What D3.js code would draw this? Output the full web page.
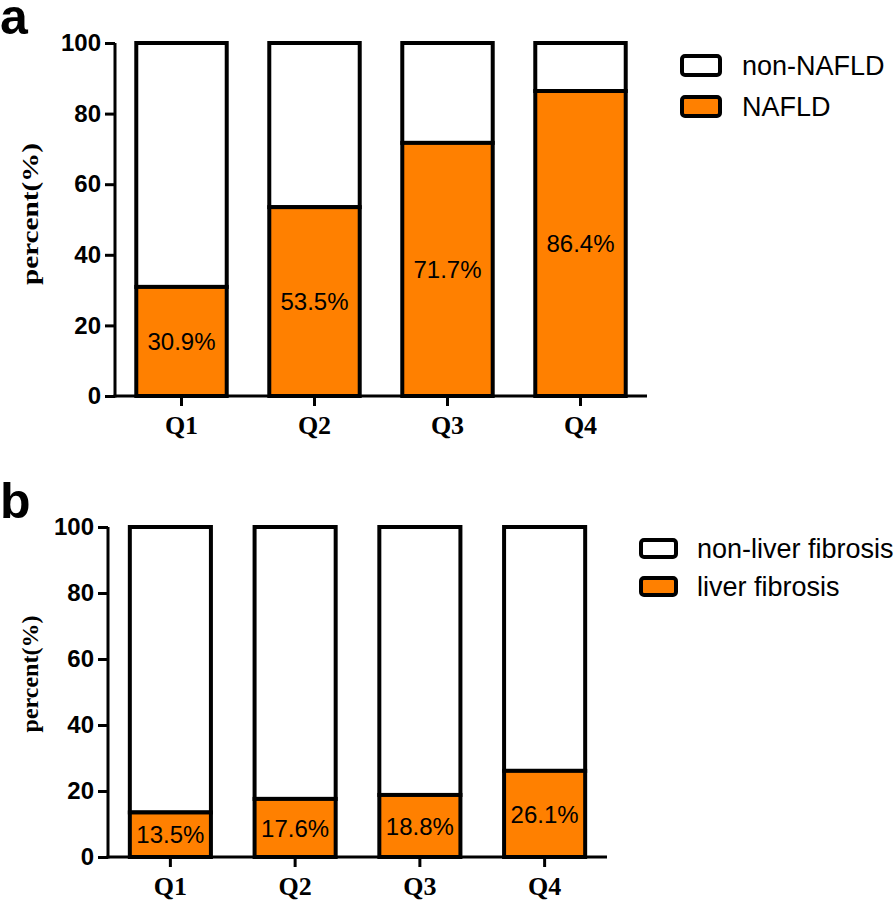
<!DOCTYPE html>
<html>
<head>
<meta charset="utf-8">
<script src="https://cdn.jsdelivr.net/npm/d3@7"></script>
<style>
  html, body { margin: 0; padding: 0; background: #fff; }
  svg { display: block; }
</style>
</head>
<body>
<svg id="chart" width="896" height="901"></svg>
<script>
// ---- data ----
const categories = ["Q1", "Q2", "Q3", "Q4"];
const nafldValues = [30.9, 53.5, 71.7, 86.4];
const fibrosisValues = [13.5, 17.6, 18.8, 26.1];
const yTicks = [0, 20, 40, 60, 80, 100];
const legendA = ["non-NAFLD", "NAFLD"];
const legendB = ["non-liver fibrosis", "liver fibrosis"];
const panelLetters = ["a", "b"];

const ORANGE = "#FF8000";
const svg = d3.select("#chart");

function drawPanel(cfg) {
  const g = svg.append("g");
  const x = d3.scaleBand().domain(categories).range([cfg.x0, cfg.x1])
    .paddingInner(cfg.pad).paddingOuter(cfg.pad / 2);
  const y = d3.scaleLinear().domain([0, 100]).range([cfg.yBottom, cfg.yTop]);

  // panel letter
  g.append("text").attr("x", 0).attr("y", cfg.letterY)
    .attr("font-family", "Liberation Sans, Arial, sans-serif")
    .attr("font-weight", "bold").attr("font-size", 50)
    .text(cfg.letter);

  // bars
  const bars = g.selectAll(".bar").data(categories.map((c, i) => ({ c, v: cfg.values[i] })))
    .enter().append("g");
  bars.append("rect")
    .attr("x", d => x(d.c)).attr("width", x.bandwidth())
    .attr("y", y(100)).attr("height", d => y(d.v) - y(100))
    .attr("fill", "#fff").attr("stroke", "#000").attr("stroke-width", 4);
  bars.append("rect")
    .attr("x", d => x(d.c)).attr("width", x.bandwidth())
    .attr("y", d => y(d.v)).attr("height", d => y(0) - y(d.v))
    .attr("fill", ORANGE).attr("stroke", "#000").attr("stroke-width", 4);
  bars.append("text")
    .attr("x", d => x(d.c) + x.bandwidth() / 2)
    .attr("y", d => (y(0) + y(d.v)) / 2)
    .attr("dy", "0.36em")
    .attr("text-anchor", "middle")
    .attr("font-family", "Liberation Sans, Arial, sans-serif")
    .attr("font-size", 24)
    .text(d => d.v.toFixed(1) + "%");

  // y axis
  const yAxis = d3.axisLeft(y).tickValues(yTicks).tickSize(10).tickPadding(4);
  const ya = g.append("g").attr("transform", `translate(${cfg.x0},0)`).call(yAxis);
  ya.select(".domain").attr("stroke-width", 3).attr("d", `M0,${y(100)}V${y(0) + 1.5}`);
  ya.selectAll(".tick line").attr("stroke-width", 3);
  ya.selectAll(".tick text")
    .attr("font-family", "Liberation Sans, Arial, sans-serif")
    .attr("font-weight", "bold").attr("font-size", 24).attr("fill", "#000");

  // x axis
  const xAxis = d3.axisBottom(x).tickSize(10).tickPadding(10);
  const xa = g.append("g").attr("transform", `translate(0,${y(0)})`).call(xAxis);
  xa.select(".domain").attr("stroke-width", 3).attr("d", `M${cfg.x0 - 1.5},0H${cfg.x1}`);
  xa.selectAll(".tick line").attr("stroke-width", 3);
  xa.selectAll(".tick text")
    .attr("font-family", "Liberation Serif, Times New Roman, serif")
    .attr("font-weight", "bold").attr("font-size", 26).attr("fill", "#000");

  // y title
  const t = g.append("text")
    .attr("transform", `translate(${cfg.titleX},${cfg.titleY}) rotate(-90)`)
    .attr("text-anchor", "middle")
    .attr("font-family", "Liberation Serif, Times New Roman, serif")
    .attr("font-weight", "bold").attr("font-size", 24)
    .text("percent(%)");
  if (cfg.titleLen) t.attr("textLength", cfg.titleLen).attr("lengthAdjust", "spacingAndGlyphs");

  // legend
  const leg = g.selectAll(".leg").data(cfg.legend).enter().append("g");
  leg.append("rect")
    .attr("x", cfg.legX).attr("y", (d, i) => cfg.legY + i * cfg.legStep)
    .attr("width", cfg.boxW).attr("height", cfg.boxH).attr("rx", 3)
    .attr("fill", (d, i) => i === 0 ? "#fff" : ORANGE)
    .attr("stroke", "#000").attr("stroke-width", 4);
  leg.append("text")
    .attr("x", cfg.legTextX)
    .attr("y", (d, i) => cfg.legY + i * cfg.legStep + cfg.boxH / 2)
    .attr("dy", "0.35em")
    .attr("font-family", "Liberation Sans, Arial, sans-serif")
    .attr("font-size", 27)
    .text(d => d);
}

drawPanel({
  letter: panelLetters[0], letterY: 34,
  values: nafldValues, legend: legendA,
  x0: 115, x1: 647, yTop: 43, yBottom: 396, pad: 0.32,
  titleX: 38, titleY: 214, titleLen: 142,
  legX: 682, legY: 56, legStep: 41, boxW: 38, boxH: 19, legTextX: 742
});
drawPanel({
  letter: panelLetters[1], letterY: 518,
  values: fibrosisValues, legend: legendB,
  x0: 108, x1: 607, yTop: 527, yBottom: 857, pad: 0.35,
  titleX: 38, titleY: 674,
  legX: 641, legY: 540, legStep: 38, boxW: 35, boxH: 17, legTextX: 697
});
</script>
</body>
</html>
